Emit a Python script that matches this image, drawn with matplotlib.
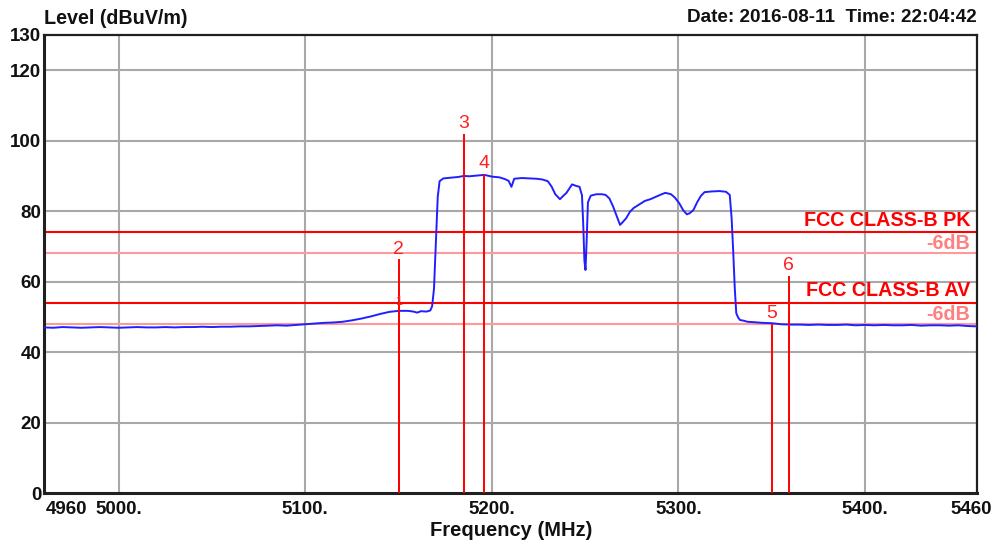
import matplotlib
matplotlib.use("Agg")
import matplotlib.pyplot as plt
from matplotlib.transforms import ScaledTranslation

# ---- data ----
freq = [4960, 4965, 4970, 4975, 4980, 4985, 4990, 4995, 5000, 5005, 5010, 5015, 5020, 5025,
        5030, 5035, 5040, 5045, 5050, 5055, 5060, 5065, 5070, 5075, 5080, 5085, 5090, 5095,
        5100, 5105, 5110, 5115, 5120, 5125, 5130, 5135, 5140, 5145, 5150, 5155, 5158, 5160,
        5162, 5165, 5167, 5168, 5169, 5170, 5171, 5172, 5174, 5178, 5182, 5185, 5188, 5192,
        5196, 5200, 5204, 5207, 5209, 5210.5, 5212, 5216, 5220, 5224, 5227, 5230, 5232, 5234,
        5236.5, 5238, 5240, 5243, 5245, 5247, 5248.3, 5249, 5249.6, 5250.2, 5250.8, 5251.5,
        5253, 5256, 5259, 5261, 5263, 5265, 5267, 5268.7, 5270, 5272, 5274, 5276, 5279, 5282,
        5285, 5288, 5291, 5293, 5296, 5298, 5300.5, 5302.5, 5304.5, 5306, 5308, 5310, 5312,
        5314, 5318, 5322, 5325.5, 5327.5, 5328.5, 5329.4, 5330.2, 5331, 5332, 5333, 5335,
        5337, 5340, 5345, 5350, 5355, 5360, 5365, 5370, 5375, 5380, 5385, 5390, 5395, 5400,
        5405, 5410, 5415, 5420, 5425, 5430, 5435, 5440, 5445, 5450, 5455, 5460]
level = [47.0, 46.9, 47.1, 47.0, 46.9, 47.0, 47.1, 47.0, 46.9, 47.0, 47.1, 47.0, 47.0, 47.1,
         47.0, 47.1, 47.1, 47.2, 47.1, 47.2, 47.2, 47.3, 47.3, 47.4, 47.5, 47.6, 47.5, 47.7,
         47.9, 48.1, 48.3, 48.4, 48.6, 49.0, 49.5, 50.1, 50.8, 51.4, 51.7, 51.7, 51.5, 51.2,
         51.6, 51.5, 51.8, 53.0, 58.0, 71.0, 84.0, 88.5, 89.3, 89.5, 89.7, 90.0, 89.9, 90.1,
         90.3, 89.8, 89.6, 89.1, 88.6, 86.9, 89.2, 89.4, 89.3, 89.2, 89.0, 88.5, 87.0, 84.8,
         83.4, 84.2, 85.2, 87.6, 87.2, 86.9, 84.5, 76.0, 66.0, 63.3, 71.5, 82.5,
         84.4, 84.8, 84.8, 84.6, 83.6, 81.3, 78.5, 76.1, 76.8, 78.0, 79.8, 80.9, 81.9, 82.9,
         83.4, 84.1, 84.8, 85.2, 84.8, 83.9, 82.2, 80.3, 79.1, 79.4, 80.3, 82.5, 84.3,
         85.4, 85.6, 85.7, 85.5, 84.6, 78.0, 68.0, 58.0, 51.0, 49.8, 49.1, 48.9,
         48.6, 48.5, 48.3, 48.2, 47.9, 47.8, 47.8, 47.7, 47.8, 47.7, 47.7, 47.8, 47.6, 47.7,
         47.6, 47.7, 47.6, 47.6, 47.7, 47.5, 47.6, 47.6, 47.5, 47.6, 47.4, 47.3]

marker_freq = [5150, 5150, 5185, 5196, 5350, 5359]
marker_level = [51.7, 66.0, 101.6, 90.3, 47.7, 61.3]
marker_labels = ["1", "2", "3", "4", "5", "6"]

limit_values = [74, 68, 54, 48]
limit_labels = ["FCC CLASS-B PK", "-6dB", "FCC CLASS-B AV", "-6dB"]

x_ticks = [4960, 5000, 5100, 5200, 5300, 5400, 5460]
x_tick_labels = ["4960", "5000.", "5100.", "5200.", "5300.", "5400.", "5460"]
y_ticks = [0, 20, 40, 60, 80, 100, 120, 130]
y_tick_labels = ["0", "20", "40", "60", "80", "100", "120", "130"]

# ---- figure ----
W, H = 998, 544
fig = plt.figure(figsize=(W / 100, H / 100), dpi=100)
plt.rcParams['font.family'] = ['Liberation Sans', 'DejaVu Sans']
ax = fig.add_axes([44 / W, 1 - 493 / H, (977 - 44) / W, (493 - 35) / H])
ax.set_xlim(4960, 5460)
ax.set_ylim(0, 130)

# grid
for gx in [5000, 5100, 5200, 5300, 5400]:
    ax.axvline(gx, color="#a8a8a8", lw=1.5, zorder=1)
for gy in [20, 40, 60, 80, 100, 120]:
    ax.axhline(gy, color="#a8a8a8", lw=1.5, zorder=1)

# limits
lim_colors = ["#ff0000", "#ff9a9a", "#ff0000", "#ff9a9a"]
lab_colors = ["#ff0000", "#ff8080", "#ff0000", "#ff8080"]
for v, lc in zip(limit_values, lim_colors):
    ax.axhline(v, color=lc, lw=1.5, zorder=2)
for i in range(0, 4, 2):
    ax.annotate(limit_labels[i], xy=(1, limit_values[i]), xycoords=("axes fraction", "data"),
                xytext=(-5, 2), textcoords="offset points", ha="right", va="bottom",
                color=lab_colors[i], fontsize=14.2, fontweight="bold", zorder=5)
    ax.annotate(limit_labels[i + 1], xy=(1, limit_values[i]), xycoords=("axes fraction", "data"),
                xytext=(-5, -1.5), textcoords="offset points", ha="right", va="top",
                color=lab_colors[i + 1], fontsize=14.2, fontweight="bold", zorder=5)

# trace
ax.plot(freq, level, color="#2020ff", lw=1.4, zorder=3)

# markers
for f, lv, lb in zip(marker_freq, marker_level, marker_labels):
    ax.plot([f, f], [0, lv], color="#ff0000", lw=1.4, zorder=4)
    fs = 9 if lb == "1" else 14
    ax.annotate(lb, xy=(f, lv), xytext=(0, 2), textcoords="offset points",
                ha="center", va="bottom", color="#ff2020", fontsize=fs, zorder=5)

# ticks
ax.set_xticks(x_ticks)
ax.set_xticklabels(x_tick_labels)
ax.set_yticks(y_ticks)
ax.set_yticklabels(y_tick_labels)
ax.tick_params(axis="both", length=0, labelsize=13.5)
for lab in ax.get_xticklabels() + ax.get_yticklabels():
    lab.set_fontweight("bold")
    lab.set_color("#111111")
ax.tick_params(axis="x", pad=6)
ax.tick_params(axis="y", pad=2)

xl = ax.get_xticklabels()
xl[0].set_horizontalalignment("left")
xl[0].set_transform(xl[0].get_transform() + ScaledTranslation(2 / 100, 0, fig.dpi_scale_trans))
xl[-1].set_transform(xl[-1].get_transform() + ScaledTranslation(-6 / 100, 0, fig.dpi_scale_trans))

for s in ["left", "bottom"]:
    ax.spines[s].set_linewidth(2.2)
    ax.spines[s].set_color("#202020")
for s in ["top", "right"]:
    ax.spines[s].set_linewidth(1.6)
    ax.spines[s].set_color("#202020")

fig.text(44 / W, 1 - 18 / H, "Level (dBuV/m)", ha="left", va="center",
         fontsize=14.2, fontweight="bold", color="#111111")
fig.text(977 / W, 1 - 18 / H, "Date: 2016-08-11  Time: 22:04:42", ha="right", va="center",
         fontsize=13.6, fontweight="bold", color="#111111")
fig.text(511 / W, 1 - 530 / H, "Frequency (MHz)", ha="center", va="center",
         fontsize=14.5, fontweight="bold", color="#111111")

fig.savefig("out.png", dpi=100)
